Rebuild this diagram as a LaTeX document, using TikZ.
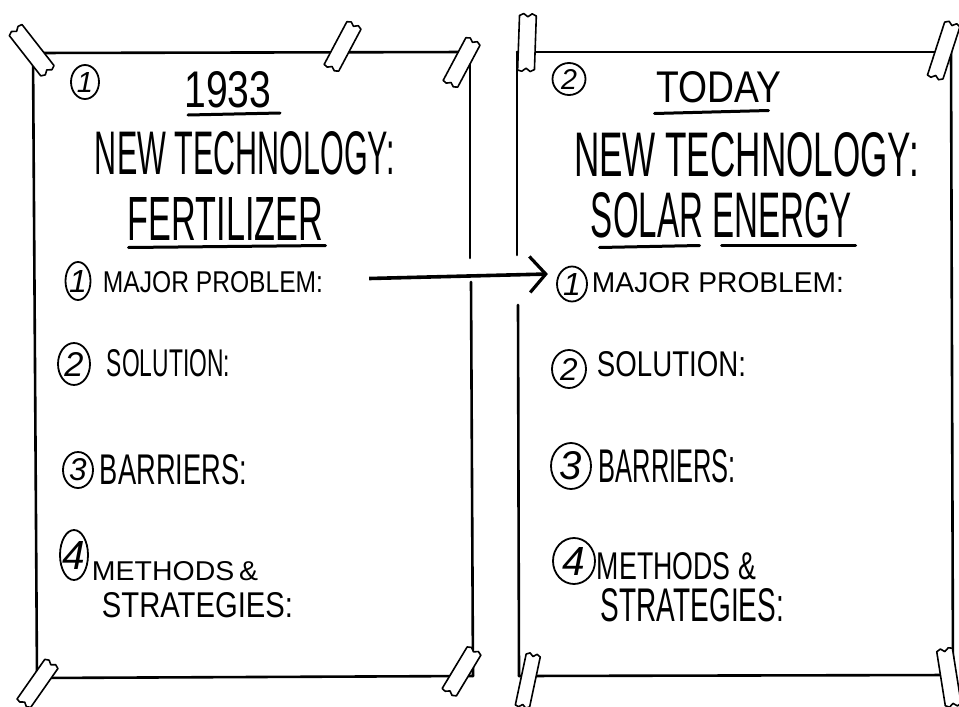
\documentclass[tikz,border=0pt]{standalone}
\usepackage{fontspec}
\setmainfont{Liberation Sans}
\usepackage{graphicx}
\usetikzlibrary{arrows.meta,shapes.geometric}
\newcommand\rsz[3]{\resizebox{#1pt}{#2pt}{#3}}
\newcommand\circnum[6]{\node[lbl] (#1) at (#2) {\resizebox{!}{#5pt}{\itshape #6}};
  \draw[ring] (#1.center) ellipse [x radius=#3pt/2, y radius=#4pt/2];}
\begin{document}
\begin{tikzpicture}[x=1pt,y=-1pt,
  edge/.style={line width=2.6pt, line cap=round},
  rule/.style={line width=3pt, line cap=round},
  lbl/.style={inner sep=0pt, anchor=center},
  ring/.style={draw=black, line width=1.8pt},
  link/.style={line width=3.6pt, -{Straight Barb[length=16pt, width=36pt, line width=3.2pt]}},
  tapepath/.style={draw, line width=1.6pt, fill=white, line join=round},
  pics/tapestrip/.style={code={\path[tapepath] (-27,-8) -- (25,-8) -- (27,-4) -- (24,0) -- (27,4) -- (25,8) -- (-26,8) -- (-28,4) -- (-25,0) -- (-28,-4) -- cycle;}}
]
\fill[white] (0,0) rectangle (959,707);
\useasboundingbox (0,0) rectangle (959,707);

% left poster edges
\draw[edge] (33,53) -- (470,52);
\draw[edge] (33,53) -- (37,678);
\draw[edge] (37,678) -- (473,676);
\draw[edge] (470,52) -- (470,258);
\draw[edge] (471,282) -- (473,676);
% right poster edges
\draw[edge] (517,52) -- (951,52);
\draw[edge] (517,52) -- (517,255);
\draw[edge] (518,305) -- (519,676);
\draw[edge] (519,676) -- (953,675);
\draw[edge] (951,52) -- (953,675);

% tapes
\pic[rotate=-52, xscale=1.0, yscale=1.05] at (32,51) {tapestrip};
\pic[rotate=62, xscale=0.93, yscale=1.0] at (343,46) {tapestrip};
\pic[rotate=62, xscale=0.93, yscale=1.0] at (462,62) {tapestrip};
\pic[rotate=55, xscale=0.93, yscale=1.0] at (38,683) {tapestrip};
\pic[rotate=59, xscale=0.93, yscale=1.0] at (462,671) {tapestrip};
\pic[rotate=88, xscale=1.05, yscale=1.05] at (527,42) {tapestrip};
\pic[rotate=72, xscale=1.07, yscale=1.0] at (944,50) {tapestrip};
\pic[rotate=78, xscale=1.0, yscale=0.9] at (528,680) {tapestrip};
\pic[rotate=-81, xscale=1.07, yscale=1.0] at (949,678) {tapestrip};

% left poster text
\circnum{c0L}{85,82}{28}{34}{20}{1}
\node[lbl] (yearL) at (228,90) {\rsz{87}{36}{1933}};
\draw[rule] ([yshift=-25pt,xshift=-40pt]yearL.center) -- ([yshift=-23pt,xshift=52pt]yearL.center);
\node[lbl] (techL) at (245,153.5) {\rsz{300}{43}{NEW TECHNOLOGY:}};
\node[lbl] (fert) at (225.5,218.5) {\rsz{195}{43}{FERTILIZER}};
\draw[rule] ([yshift=-29pt,xshift=-97pt]fert.center) -- ([yshift=-27pt,xshift=100pt]fert.center);
\circnum{c1L}{78,281}{25}{38}{22}{1}
\node[lbl] (mpL) at (213,282.5) {\rsz{220}{21}{MAJOR PROBLEM:}};
\circnum{c2L}{74,364}{32}{42}{24}{2}
\node[lbl] (solL) at (168.5,363.5) {\rsz{123}{27}{SOLUTION:}};
\circnum{c3L}{78,470}{30}{36}{22}{3}
\node[lbl] (barL) at (173.5,470) {\rsz{147}{30}{BARRIERS:}};
\circnum{c4L}{74,555}{28}{50}{28}{4}
\node[lbl] (metL) at (175,571) {\rsz{166}{19}{METHODS\,\&}};
\node[lbl] (strL) at (197.5,605.5) {\rsz{191}{25}{STRATEGIES:}};

% right poster text
\circnum{c0R}{569,79}{33}{32}{20}{2}
\node[lbl] (today) at (718.5,87.5) {\rsz{125}{31}{TODAY}};
\draw[rule] ([yshift=-26pt,xshift=-64pt]today.center) -- ([yshift=-23pt,xshift=50pt]today.center);
\node[lbl] (techR) at (746.5,155) {\rsz{345}{44}{NEW TECHNOLOGY:}};
\node[lbl] (solar) at (721.5,215.5) {\rsz{261}{45}{SOLAR ENERGY}};
\draw[rule] ([yshift=-32pt,xshift=-122pt]solar.center) -- ([yshift=-30pt,xshift=-22pt]solar.center);
\draw[rule] ([yshift=-30pt,xshift=0pt]solar.center) -- ([yshift=-30pt,xshift=134pt]solar.center);
\circnum{c1R}{572,284}{30}{35}{22}{1}
\node[lbl] (mpR) at (718,282.5) {\rsz{252}{20}{MAJOR PROBLEM:}};
\circnum{c2R}{569,369}{34}{38}{22}{2}
\node[lbl] (solR) at (671.5,364.5) {\rsz{149}{25}{SOLUTION:}};
\circnum{c3R}{571,466}{40}{46}{28}{3}
\node[lbl] (barR) at (667.5,466.5) {\rsz{137}{33}{BARRIERS:}};
\circnum{c4R}{574,561}{42}{46}{28}{4}
\node[lbl] (metR) at (676.5,566.5) {\rsz{159}{27}{METHODS \&}};
\node[lbl] (strR) at (692.5,605) {\rsz{183}{33}{STRATEGIES:}};

% connector
\draw[link] ([xshift=46pt,yshift=4pt]mpL.east) -- ([xshift=-15pt,yshift=10pt]c1R.west);
\end{tikzpicture}
\end{document}
